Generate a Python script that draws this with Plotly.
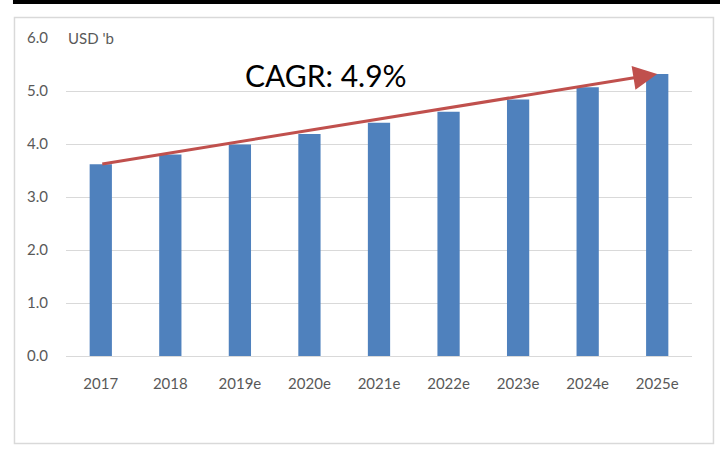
import plotly.graph_objects as go

years = ["2017", "2018", "2019e", "2020e", "2021e", "2022e", "2023e", "2024e", "2025e"]
market = [3.62, 3.80, 3.99, 4.19, 4.40, 4.61, 4.84, 5.07, 5.32]
y_ticks = [0, 1, 2, 3, 4, 5, 6]
cagr_label = "CAGR: 4.9%"
unit_label = "USD 'b"

fig = go.Figure()
fig.add_trace(go.Bar(x=years, y=market, marker_color="#4f81bd",
                     marker_line_width=0, hoverinfo="x+y"))

# trend arrow from first to last bar
fig.add_annotation(x=len(years) - 1, y=market[-1], ax=0, ay=market[0],
                   xref="x", yref="y", axref="x", ayref="y",
                   showarrow=True, arrowhead=2, arrowsize=1.6, arrowwidth=3,
                   arrowcolor="#c0504d", text="")
fig.add_annotation(x=0.415, y=5.3, xref="paper", yref="y", text=cagr_label,
                   showarrow=False, font=dict(family="Lato", size=30, color="#000000"))
fig.add_annotation(x=0, y=6, xref="paper", yref="y", text=unit_label,
                   xanchor="left", showarrow=False, bgcolor="white",
                   font=dict(family="Lato", size=15, color="#595959"))

# outer frame and black strip on top
fig.add_shape(type="rect", xref="paper", yref="paper", x0=-0.0823, x1=1.0343,
              y0=-0.2752, y1=1.0645, line=dict(color="#d9d9d9", width=1.5), layer="below")
fig.add_shape(type="rect", xref="paper", yref="paper", x0=-0.0847, x1=1.05,
              y0=1.1069, y1=1.13, line_width=0, fillcolor="black")

fig.update_layout(
    width=720, height=450,
    margin=dict(l=66, r=28, t=38, b=94),
    plot_bgcolor="white", paper_bgcolor="white",
    showlegend=False, bargap=0.68,
    font=dict(family="Lato", size=15, color="#595959"),
)
fig.update_xaxes(showgrid=False, showline=True, linecolor="#d9d9d9", linewidth=1,
                 ticks="", ticklabelstandoff=14, tickfont=dict(size=15, color="#595959"))
fig.update_yaxes(range=[0, 6], tickvals=y_ticks, tickformat=".1f", showgrid=True,
                 gridcolor="#d9d9d9", gridwidth=1, zeroline=False, showline=False,
                 ticks="", ticklabelstandoff=17, tickfont=dict(size=15, color="#595959"))

fig.write_html("out.html", config={"displayModeBar": False},
               post_script="document.body.style.margin='0';")
